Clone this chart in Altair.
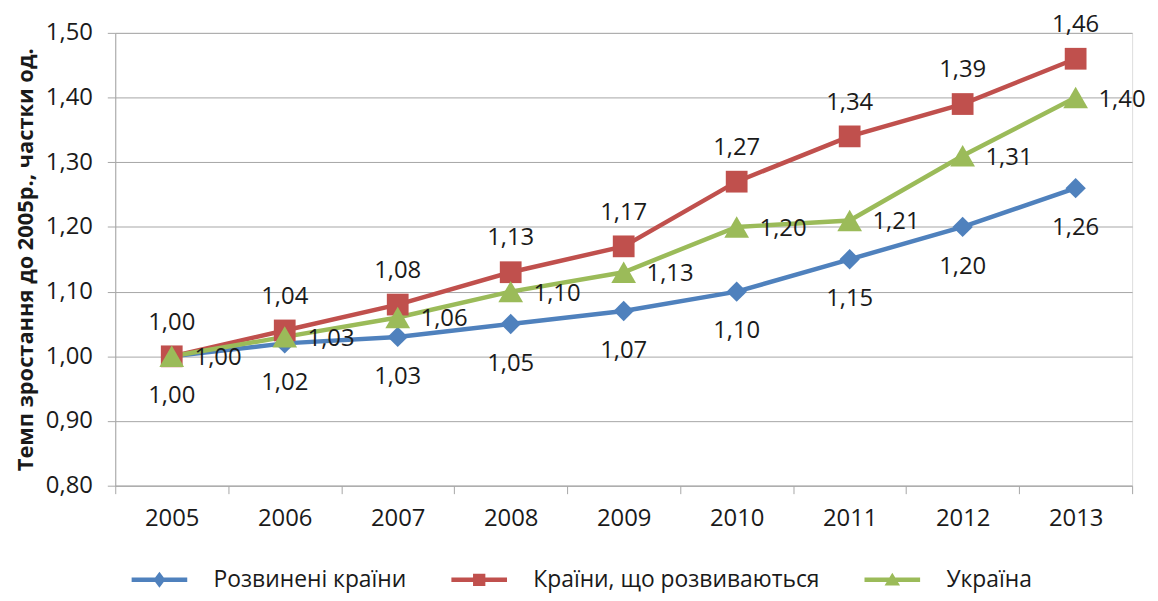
import altair as alt
import pandas as pd

years = ["2005", "2006", "2007", "2008", "2009", "2010", "2011", "2012", "2013"]
series_names = ["Розвинені країни", "Країни, що розвиваються", "Україна"]
developed = [1.00, 1.02, 1.03, 1.05, 1.07, 1.10, 1.15, 1.20, 1.26]
developing = [1.00, 1.04, 1.08, 1.13, 1.17, 1.27, 1.34, 1.39, 1.46]
ukraine = [1.00, 1.03, 1.06, 1.10, 1.13, 1.20, 1.21, 1.31, 1.40]
y_ticks = [0.8, 0.9, 1.0, 1.1, 1.2, 1.3, 1.4, 1.5]

colors = ["#4F81BD", "#C0504D", "#9BBB59"]
shapes = ["diamond", "square", "triangle-up"]
sizes = [420, 480, 620]

rows = []
for name, vals in zip(series_names, [developed, developing, ukraine]):
    for yr, v in zip(years, vals):
        rows.append({"year": yr, "series": name, "value": v,
                     "label": f"{v:.2f}".replace(".", ",")})
df = pd.DataFrame(rows)

FONT = "Open Sans"
TXT = "#1a1a1a"
GRID = "#a6a6a6"
FS = 24

leg_paths = [
    "M-2.8,-0.22H2.8V0.22H-2.8Z M0,-0.8L0.6,0L0,0.8L-0.6,0Z",
    "M-2.8,-0.22H2.8V0.22H-2.8Z M-0.62,-0.62H0.62V0.62H-0.62Z",
    "M-2.8,-0.22H2.8V0.22H-2.8Z M0,-0.72L0.78,0.58L-0.78,0.58Z",
]

x_enc = alt.X("year:O", sort=years, title=None,
              scale=alt.Scale(paddingInner=0, paddingOuter=0),
              axis=alt.Axis(labelAngle=0, tickBand="extent", grid=False,
                            domainColor=GRID, tickColor=GRID, tickSize=8,
                            labelFont=FONT, labelFontSize=FS, labelColor=TXT,
                            labelPadding=13))
y_enc = alt.Y("value:Q", title="Темп зростання  до 2005р., частки од.",
              scale=alt.Scale(domain=[0.8, 1.5], nice=False, zero=False),
              axis=alt.Axis(values=y_ticks,
                            labelExpr="replace(format(datum.value, '.2f'), '.', ',')",
                            grid=True, gridColor=GRID, domainColor=GRID,
                            tickColor=GRID, tickSize=8,
                            labelFont=FONT, labelFontSize=FS, labelColor=TXT,
                            labelPadding=15, titleFont=FONT, titleFontSize=22,
                            titleFontWeight="bold", titleColor=TXT,
                            titlePadding=8))

base = alt.Chart(df).encode(x=x_enc, y=y_enc)

layers = []
for name, col in zip(series_names, colors):
    sub = base.transform_filter(alt.datum.series == name)
    layers.append(sub.mark_line(strokeWidth=4.5, color=col))
for name, col, shp, sz in zip(series_names, colors, shapes, sizes):
    sub = base.transform_filter(alt.datum.series == name)
    layers.append(sub.mark_point(filled=True, opacity=1, shape=shp, size=sz,
                                 color=col, strokeWidth=0))

text_style = dict(font=FONT, fontSize=FS, color=TXT, baseline="middle")
layers.append(base.transform_filter(alt.datum.series == series_names[0]).mark_text(
    align="center", dy=40, **text_style).encode(text="label:N"))
layers.append(base.transform_filter(alt.datum.series == series_names[1]).mark_text(
    align="center", dy=-34, **text_style).encode(text="label:N"))
layers.append(base.transform_filter(alt.datum.series == series_names[2]).mark_text(
    align="left", dx=23, dy=2, **text_style).encode(text="label:N"))

legend = alt.Legend(
    title=None, orient="none", legendX=33, legendY=539, direction="horizontal",
    symbolSize=400, labelFont=FONT, labelFontSize=23, labelColor=TXT,
    labelOffset=43, columnPadding=44, symbolStrokeWidth=0, symbolOpacity=1,
    labelLimit=500,
)
legend_layer = base.transform_filter("false").mark_point(filled=True).encode(
    color=alt.Color("series:N", scale=alt.Scale(domain=series_names, range=colors),
                    sort=series_names, legend=legend),
    shape=alt.Shape("series:N", scale=alt.Scale(domain=series_names, range=leg_paths),
                    sort=series_names, legend=legend),
)
layers.append(legend_layer)

chart = alt.layer(*layers).properties(
    width=1024, height=456,
    autosize=alt.AutoSizeParams(type="none"),
    padding={"left": 108, "top": 23, "right": 18, "bottom": 106},
).configure_view(stroke=None).configure(background="white")

chart.save("out.html", embed_options={"renderer": "svg", "actions": False})
